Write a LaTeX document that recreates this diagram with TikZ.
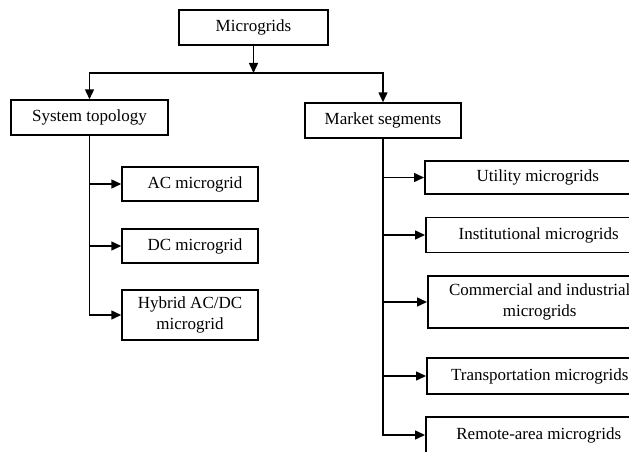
\documentclass[tikz,border=0pt]{standalone}
\usepackage{fontspec}
\setmainfont{Liberation Serif}
\usepackage{tikz}
\usetikzlibrary{arrows.meta}
\tikzset{
    grid-box/.style = {draw=black, fill=white, line width=1.5pt, rectangle, align=center, inner sep=0pt,
        font=\fontsize{17}{21}\selectfont},
    branch-arrow/.style = {line width=1.5pt, -{Triangle[length=10pt,width=9pt]}},
}

\begin{document}
\begin{tikzpicture}[x=1pt,y=1pt]
\clip (0,0) rectangle (629,-452);
\node [grid-box, minimum width=149pt, minimum height=35pt] (top) at (253.5,-27.5) {Microgrids};
\coordinate (split) at (253.5,-73);
\node [grid-box, minimum width=157pt, minimum height=35pt] (sys) at (89.5,-117.5) {System topology};
\node [grid-box, minimum width=156pt, minimum height=35pt] (mkt) at (383,-120.5) {Market segments};

% system topology
\node [grid-box, minimum width=136pt, minimum height=34pt] (ac) at (190,-184) {\hspace{10pt}AC microgrid};
\node [grid-box, minimum width=136pt, minimum height=34pt] (dc) at (190,-246) {\hspace{10pt}DC microgrid};
\node [grid-box, minimum width=136pt, minimum height=50pt] (hyb) at (190,-315) {Hybrid AC/DC\\microgrid};

% market segments
\node [grid-box, anchor=west, minimum width=226pt, minimum height=33pt] (util) at (424,-177.5) {Utility microgrids};
\node [grid-box, anchor=west, minimum width=226pt, minimum height=35pt] (inst) at (425,-235) {Institutional microgrids};
\node [grid-box, anchor=west, minimum width=224pt, minimum height=52pt] (comm) at (427,-302) {Commercial and industrial\\microgrids};
\node [grid-box, anchor=west, minimum width=226pt, minimum height=36pt] (trans) at (426,-376) {Transportation microgrids};
\node [grid-box, anchor=west, minimum width=226pt, minimum height=36pt] (rem) at (425,-435) {Remote-area microgrids};

\draw [branch-arrow] (top) -- (split);
\draw [branch-arrow] (split) -| (sys.north);
\draw [branch-arrow] (split) -| (mkt.north);

\foreach \n in {ac,dc,hyb}
    \draw [branch-arrow] (sys.south) |- (\n.west);
\foreach \n in {util,inst,comm,trans,rem}
    \draw [branch-arrow] (mkt.south) |- (\n.west);
\end{tikzpicture}
\end{document}
